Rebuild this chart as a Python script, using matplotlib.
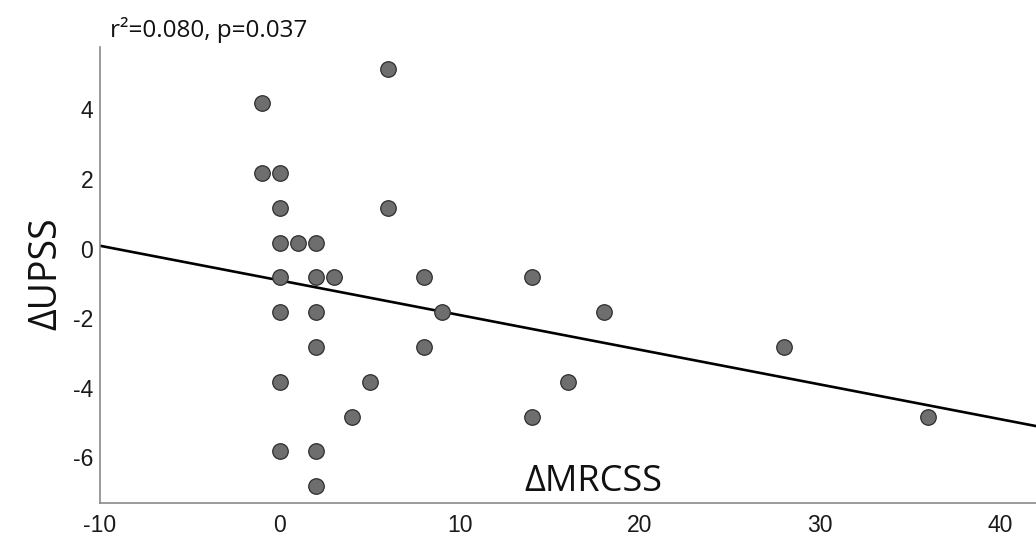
import matplotlib
matplotlib.use("Agg")
import matplotlib.pyplot as plt
from matplotlib.transforms import ScaledTranslation

plt.rcParams["axes.unicode_minus"] = False

# Data (ΔMRCSS vs ΔUPSS)
mrcss = [-1, -1, 0, 0, 0, 0, 0, 0, 0, 1, 2, 2, 2, 2, 2, 2, 3, 4, 5,
         6, 6, 8, 8, 9, 14, 14, 16, 18, 28, 36]
upss = [4, 2, 2, 1, 0, -1, -2, -4, -6, 0, 0, -1, -2, -3, -6, -7, -1, -5, -4,
        5, 1, -1, -3, -2, -1, -5, -4, -2, -3, -5]

# Regression line
fit_x = [-10, 42]
fit_y = [-0.09, -5.27]

x_ticks = [-10, 0, 10, 20, 30, 40]
y_ticks = [-6, -4, -2, 0, 2, 4]
title_text = "r\u00b2=0.080, p=0.037"
x_label = "\u0394MRCSS"
y_label = "\u0394UPSS"

fig = plt.figure(figsize=(10.36, 5.37), dpi=100)
ax = fig.add_axes([100/1036, 1 - 503/537, 936/1036, (503 - 47)/537])

ax.plot(fit_x, fit_y, color="black", lw=1.9, zorder=2)
ax.scatter(mrcss, upss, s=125, facecolor="#6e6e6e", edgecolor="#2e2e2e",
           linewidths=0.9, zorder=3)

ax.set_xlim(-10, 42)
ax.set_ylim(-7.48, 5.62)
ax.set_xticks(x_ticks)
ax.set_yticks(y_ticks)

for side in ["top", "right"]:
    ax.spines[side].set_visible(False)
for side in ["left", "bottom"]:
    ax.spines[side].set_color("#8a8a8a")
    ax.spines[side].set_linewidth(1.2)

ax.tick_params(axis="both", length=0, labelsize=16.5, labelcolor="#1a1a1a")
ax.tick_params(axis="y", pad=5)
ax.tick_params(axis="x", pad=8)
for lab in ax.get_xticklabels() + ax.get_yticklabels():
    lab.set_family("Liberation Sans")
for lab in ax.get_yticklabels():
    lab.set_transform(lab.get_transform() + ScaledTranslation(0, -6/100, fig.dpi_scale_trans))

fig.text(110/1036, 1 - 37/537, title_text, fontsize=17.5, family="Open Sans",
         ha="left", va="baseline", color="#111111")

ax.text(0.527, 0.045, x_label, transform=ax.transAxes, fontsize=26,
        family="Open Sans", ha="center", va="center", color="#111111")
fig.text(46/1036, 1 - 274/537, y_label, rotation=90, fontsize=27,
         family="Open Sans", ha="center", va="center", color="#111111")

fig.savefig("out.png", dpi=100)
